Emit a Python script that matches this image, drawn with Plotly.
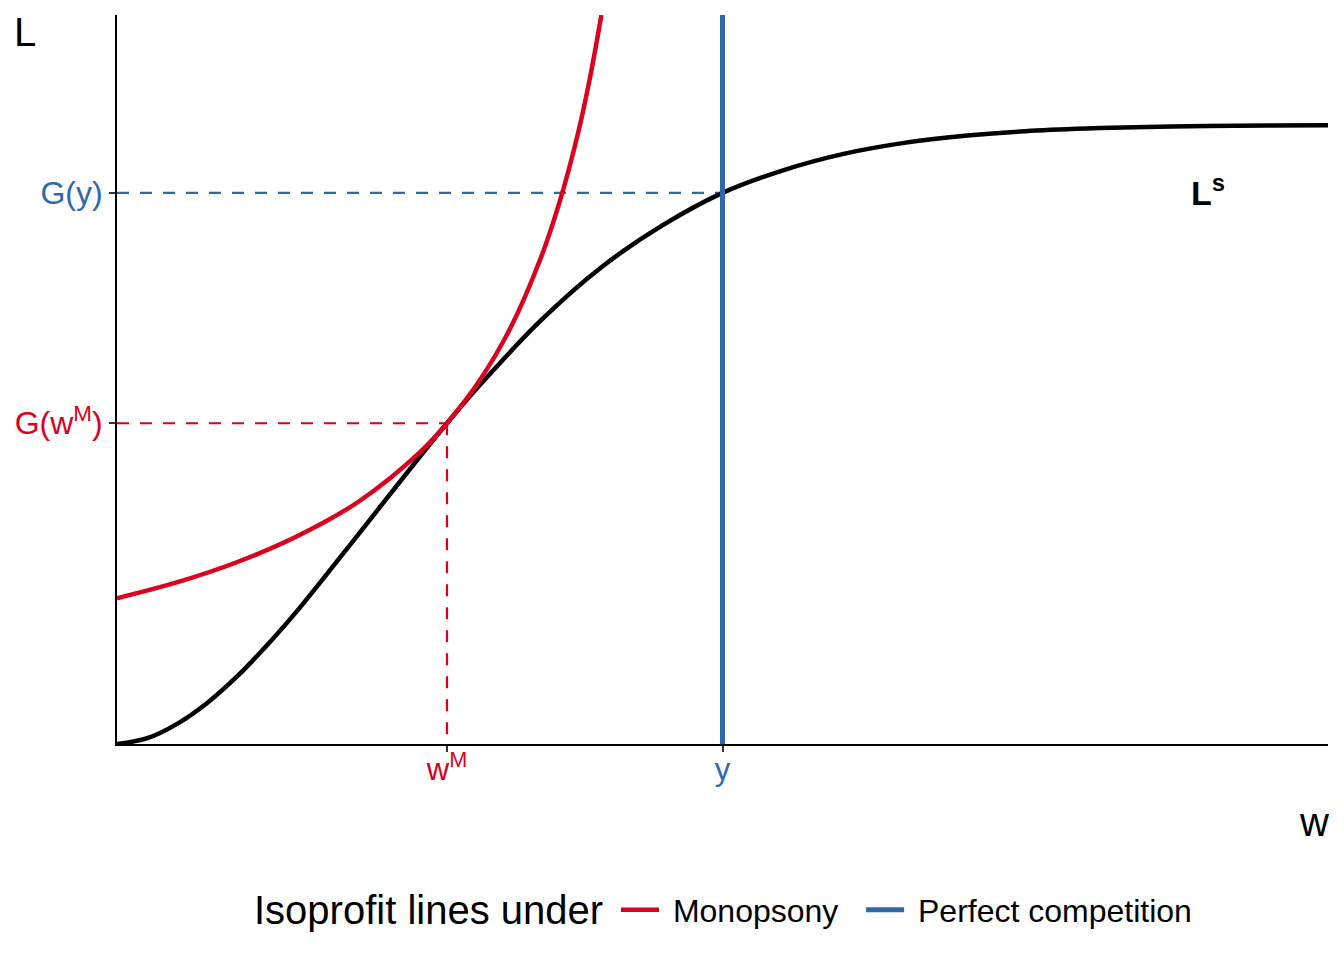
import plotly.graph_objects as go

# ---- data ----
# labour supply curve L^s = G(w)
wage_ls = [0.0, 0.25, 0.5, 0.75, 1.0, 1.25, 1.5, 2.0, 2.5, 2.725, 3.0, 3.5, 4.0, 4.5, 5.0,
           5.5, 6.0, 6.5, 7.0, 7.5, 8.0, 8.5, 9.0, 9.5, 10.0]
labour_ls = [0.0, 0.008, 0.028, 0.057, 0.094, 0.1375, 0.185, 0.289, 0.394, 0.440, 0.493,
             0.581, 0.654, 0.711, 0.756, 0.787, 0.8095, 0.8246, 0.8344, 0.8406, 0.8442,
             0.8464, 0.8476, 0.8483, 0.8487]

# isoprofit line under monopsony
wage_mono = [0.0, 0.5, 1.0, 1.5, 2.0, 2.5, 2.725, 3.0, 3.25, 3.5, 3.65, 3.8, 3.9, 4.0]
labour_mono = [0.200, 0.222, 0.250, 0.286, 0.333, 0.400, 0.440, 0.500, 0.571, 0.667,
               0.741, 0.833, 0.909, 1.000]

w_pc = 5.0          # y (perfect competition wage)
w_m = 2.725         # w^M
G_wm = 0.440        # G(w^M)
G_y = 0.756         # G(y)
L_top = 1.0

series_names = ["Monopsony", "Perfect competition"]
legend_title = "Isoprofit lines under"

RED = "#DA0020"
BLUE = "#2E6AAB"
FONT = "Liberation Sans, Arial, sans-serif"
DASH = "12px,11px"
NB = "\u00a0"

fig = go.Figure()

# dashed guide lines
fig.add_trace(go.Scatter(x=[0, w_pc], y=[G_y, G_y], mode="lines",
                         line=dict(color=BLUE, width=2.2, dash=DASH),
                         showlegend=False, hoverinfo="skip"))
fig.add_trace(go.Scatter(x=[0, w_m], y=[G_wm, G_wm], mode="lines",
                         line=dict(color=RED, width=2.2, dash=DASH),
                         showlegend=False, hoverinfo="skip"))
fig.add_trace(go.Scatter(x=[w_m, w_m], y=[G_wm, 0], mode="lines",
                         line=dict(color=RED, width=2.2, dash=DASH),
                         showlegend=False, hoverinfo="skip"))

# labour supply curve
fig.add_trace(go.Scatter(x=wage_ls, y=labour_ls, mode="lines",
                         line=dict(color="black", width=4.5, shape="spline", smoothing=1),
                         showlegend=False, hoverinfo="skip"))

# isoprofit lines
fig.add_trace(go.Scatter(x=wage_mono, y=labour_mono, mode="lines",
                         name=NB + series_names[0] + NB + NB,
                         line=dict(color=RED, width=4.5, shape="spline", smoothing=1)))
fig.add_trace(go.Scatter(x=[w_pc, w_pc], y=[0, L_top], mode="lines",
                         name=NB + series_names[1],
                         line=dict(color=BLUE, width=5)))

fig.add_annotation(x=9.01, y=0.759, xref="x", yref="y", text="<b>L<sup>s</sup></b>",
                   xanchor="center", yanchor="middle",
                   showarrow=False, font=dict(family=FONT, size=34, color="black"))
fig.add_annotation(x=-0.076, y=0.9767, xref="paper", yref="paper", text="L",
                   xanchor="center", yanchor="middle",
                   showarrow=False, font=dict(family=FONT, size=40, color="black"))
fig.add_annotation(x=0.9884, y=-0.107, xref="paper", yref="paper", text="w",
                   xanchor="center", yanchor="middle",
                   showarrow=False, font=dict(family=FONT, size=40, color="black"))
# legend title
fig.add_annotation(x=(428 - 117) / 1211, y=(744 - 910) / 729, xref="paper", yref="paper",
                   text=legend_title, xanchor="center", yanchor="middle",
                   showarrow=False, font=dict(family=FONT, size=40, color="black"))

fig.update_layout(
    width=1336, height=952,
    margin=dict(l=109, r=16, t=7, b=216),
    plot_bgcolor="white", paper_bgcolor="white",
    font=dict(family=FONT, color="black"),
    showlegend=True,
    legend=dict(orientation="h", x=(616 - 117) / 1211, xanchor="left",
                y=(744 - 910) / 729, yanchor="middle",
                font=dict(size=32), itemwidth=38, bgcolor="rgba(0,0,0,0)"),
    xaxis=dict(range=[0, 10], showgrid=False, zeroline=False, showline=True,
               linecolor="black", linewidth=2, ticks="outside", ticklen=6, tickwidth=2,
               tickcolor="#333333", tickvals=[w_m, w_pc], ticklabelstandoff=-9,
               ticktext=[f'<span style="color:{RED}">w<sup>M</sup></span>',
                         f'<span style="color:{BLUE}">y</span>'],
               tickfont=dict(family=FONT, size=31)),
    yaxis=dict(range=[0, 1], showgrid=False, zeroline=False, showline=True,
               linecolor="black", linewidth=2, ticks="outside", ticklen=6, tickwidth=2,
               tickcolor="#333333", tickvals=[G_wm, G_y],
               ticktext=[f'<span style="color:{RED}">G(w<sup>M</sup>)</span>',
                         f'<span style="color:{BLUE}">G(y)</span>'],
               tickfont=dict(family=FONT, size=32)),
)

fig.write_html("out.html")
